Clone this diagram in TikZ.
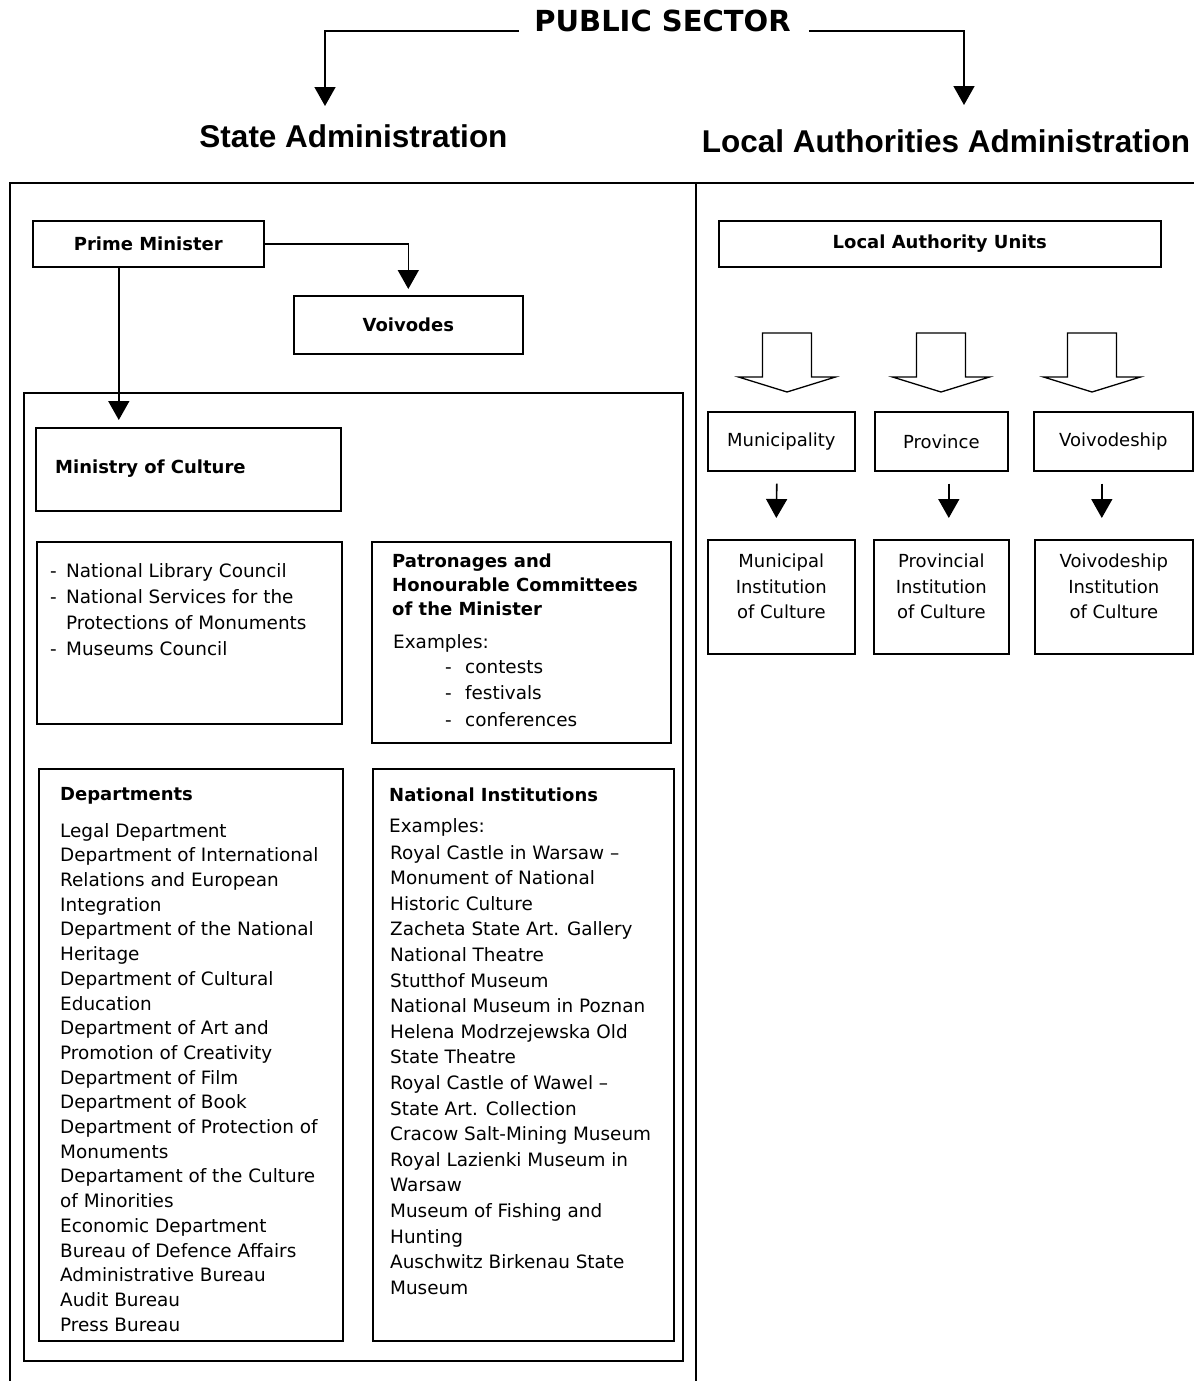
\documentclass[tikz,border=0pt]{standalone}
\usepackage{fontspec}
\setmainfont{DejaVu Sans}
\newfontfamily\arialfont{Liberation Sans}
\usetikzlibrary{arrows.meta}
% body text at a given line spacing
\newcommand\txtsize[1]{\fontsize{18.4}{#1}\selectfont}

\begin{document}
\begin{tikzpicture}[x=1pt,y=-1pt,
  framel/.style={line width=1.6pt},
  box/.style={draw, line width=1.6pt, inner sep=0pt, anchor=north west},
  boldlabel/.style={font=\fontsize{18}{24}\selectfont\bfseries},
  plainlabel/.style={font=\fontsize{18}{24}\selectfont},
  arr/.style={line width=1.6pt, -{Triangle[width=21pt,length=19pt]}},
  txt/.style={anchor=north west, inner sep=0pt, align=left},
  bigarrow/.style={draw, line width=1.3pt, fill=white, line join=miter},
]
\useasboundingbox (0,0) rectangle (1194,1381);

% ---- headings ----
\node[inner sep=0pt, anchor=base, font=\fontsize{29}{34}\selectfont\bfseries] (ps) at (662.5,32) {PUBLIC SECTOR};
\node[inner sep=0pt, anchor=base, font=\arialfont\fontsize{31.5}{36}\selectfont\bfseries] (sa) at (353.5,147) {State Administration};
\node[inner sep=0pt, anchor=base, font=\arialfont\fontsize{31.5}{36}\selectfont\bfseries] (la) at (946,152) {Local Authorities Administration};
\coordinate (saTip) at (325,106);
\coordinate (laTip) at (964,105);
\draw[arr] ([xshift=-15pt,yshift=1pt]ps.base west) -| (saTip);
\draw[arr] ([xshift=18pt,yshift=1pt]ps.base east) -| (laTip);

% ---- outer frame ----
\draw[framel] (10,1381) -- (10,183) -- (1194,183);
\draw[framel] (696,183) -- (696,1381);

% ---- state administration ----
\node[box, boldlabel, minimum width=231pt, minimum height=46pt] (pm) at (32,220) {Prime Minister};
\node[box, boldlabel, minimum width=229pt, minimum height=58pt] (vo) at (293,295) {Voivodes};
\node[box, minimum width=659pt, minimum height=968pt] (ms) at (23,392) {};
\node[box, minimum width=305pt, minimum height=83pt] (mc) at (35,427) {};
\node[boldlabel, anchor=base west, inner sep=0pt] (mct) at (55,473) {Ministry of Culture};

\coordinate (voIn) at ([yshift=6pt]vo.north);
\draw[arr] (pm.east) -| (voIn);
\coordinate (mcIn) at ([yshift=7pt]mc.north);
\draw[arr] ([xshift=-29.5pt]pm.south) -- ([xshift=-29.5pt]pm.south |- mcIn);

% councils
\node[box, minimum width=305pt, minimum height=182pt] (cb) at (36,541) {};
\node[txt, font=\txtsize{26}] (cbt) at (50,563)
  {\makebox[16pt][l]{-}National Library Council\\
   \makebox[16pt][l]{-}National Services for the\\
   \hspace*{16pt}Protections of Monuments\\
   \makebox[16pt][l]{-}Museums Council};

% patronages
\node[box, minimum width=299pt, minimum height=201pt] (pb) at (371,541) {};
\node[txt, font=\fontsize{18}{24}\selectfont\bfseries] (pbh) at (392,554)
  {Patronages and\\ Honourable Committees\\ of the Minister};
\node[txt, font=\txtsize{26}] (pbe) at (393,634) {Examples:};
\node[txt, font=\txtsize{26.5}] (pbl) at (445,660)
  {\makebox[20pt][l]{-}contests\\ \makebox[20pt][l]{-}festivals\\ \makebox[20pt][l]{-}conferences};

% departments
\node[box, minimum width=304pt, minimum height=572pt] (db) at (38,768) {};
\node[txt, font=\fontsize{18}{24}\selectfont\bfseries] (dbh) at (60,787) {Departments};
\node[txt, font=\txtsize{24.7}] (dbl) at (60,823)
  {Legal Department\\
   Department of International\\
   Relations and European\\
   Integration\\
   Department of the National\\
   Heritage\\
   Department of Cultural\\
   Education\\
   Department of Art and\\
   Promotion of Creativity\\
   Department of Film\\
   Department of Book\\
   Department of Protection of\\
   Monuments\\
   Departament of the Culture\\
   of Minorities\\
   Economic Department\\
   Bureau of Defence Affairs\\
   Administrative Bureau\\
   Audit Bureau\\
   Press Bureau};

% national institutions
\node[box, minimum width=301pt, minimum height=572pt] (nb) at (372,768) {};
\node[txt, font=\fontsize{18}{24}\selectfont\bfseries] (nbh) at (389,788) {National Institutions};
\node[txt, font=\txtsize{25}] (nbe) at (389,818) {Examples:};
\node[txt, font=\txtsize{25.6}] (nbl) at (390,845)
  {Royal Castle in Warsaw --\\
   Monument of National\\
   Historic Culture\\
   Zacheta State Art. Gallery\\
   National Theatre\\
   Stutthof Museum\\
   National Museum in Poznan\\
   Helena Modrzejewska Old\\
   State Theatre\\
   Royal Castle of Wawel --\\
   State Art. Collection\\
   Cracow Salt-Mining Museum\\
   Royal Lazienki Museum in\\
   Warsaw\\
   Museum of Fishing and\\
   Hunting\\
   Auschwitz Birkenau State\\
   Museum};

% ---- local authorities ----
\node[box, boldlabel, minimum width=442pt, minimum height=46pt] (lau) at (718,220) {Local Authority Units};

\foreach \c in {787,941,1092}
  \draw[bigarrow] (\c-24.5,333) -- (\c+24.5,333) -- (\c+24.5,377) -- (\c+48.5,377)
    -- (\c,392) -- (\c-48.5,377) -- (\c-24.5,377) -- cycle;

\node[box, plainlabel, minimum width=147pt, minimum height=59pt] (m1) at (707,411) {Municipality};
\node[box, plainlabel, minimum width=133pt, minimum height=59pt] (m2) at (874,411) {Province};
\node[box, plainlabel, minimum width=159pt, minimum height=59pt] (m3) at (1033,411) {Voivodeship};

\node[box, minimum width=147pt, minimum height=114pt] (i1) at (707,539) {};
\node[box, minimum width=135pt, minimum height=114pt] (i2) at (873,539) {};
\node[box, minimum width=158pt, minimum height=114pt] (i3) at (1034,539) {};
\node[anchor=north, inner sep=0pt, align=center, font=\fontsize{18}{25.5}\selectfont] (i1t) at ([yshift=-15pt]i1.north) {Municipal\\ Institution\\ of Culture};
\node[anchor=north, inner sep=0pt, align=center, font=\fontsize{18}{25.5}\selectfont] (i2t) at ([yshift=-15pt]i2.north) {Provincial\\ Institution\\ of Culture};
\node[anchor=north, inner sep=0pt, align=center, font=\fontsize{18}{25.5}\selectfont] (i3t) at ([yshift=-15pt]i3.north) {Voivodeship\\ Institution\\ of Culture};

\draw[arr] ([xshift=-4.5pt,yshift=-12pt]m1.south) -- ([xshift=-5pt,yshift=21pt]i1.north);
\draw[arr] ([xshift=7.5pt,yshift=-12pt]m2.south) -- ([xshift=7.5pt,yshift=21pt]i2.north);
\draw[arr] ([xshift=-11.5pt,yshift=-12pt]m3.south) -- ([xshift=-12pt,yshift=21pt]i3.north);
\end{tikzpicture}
\end{document}
